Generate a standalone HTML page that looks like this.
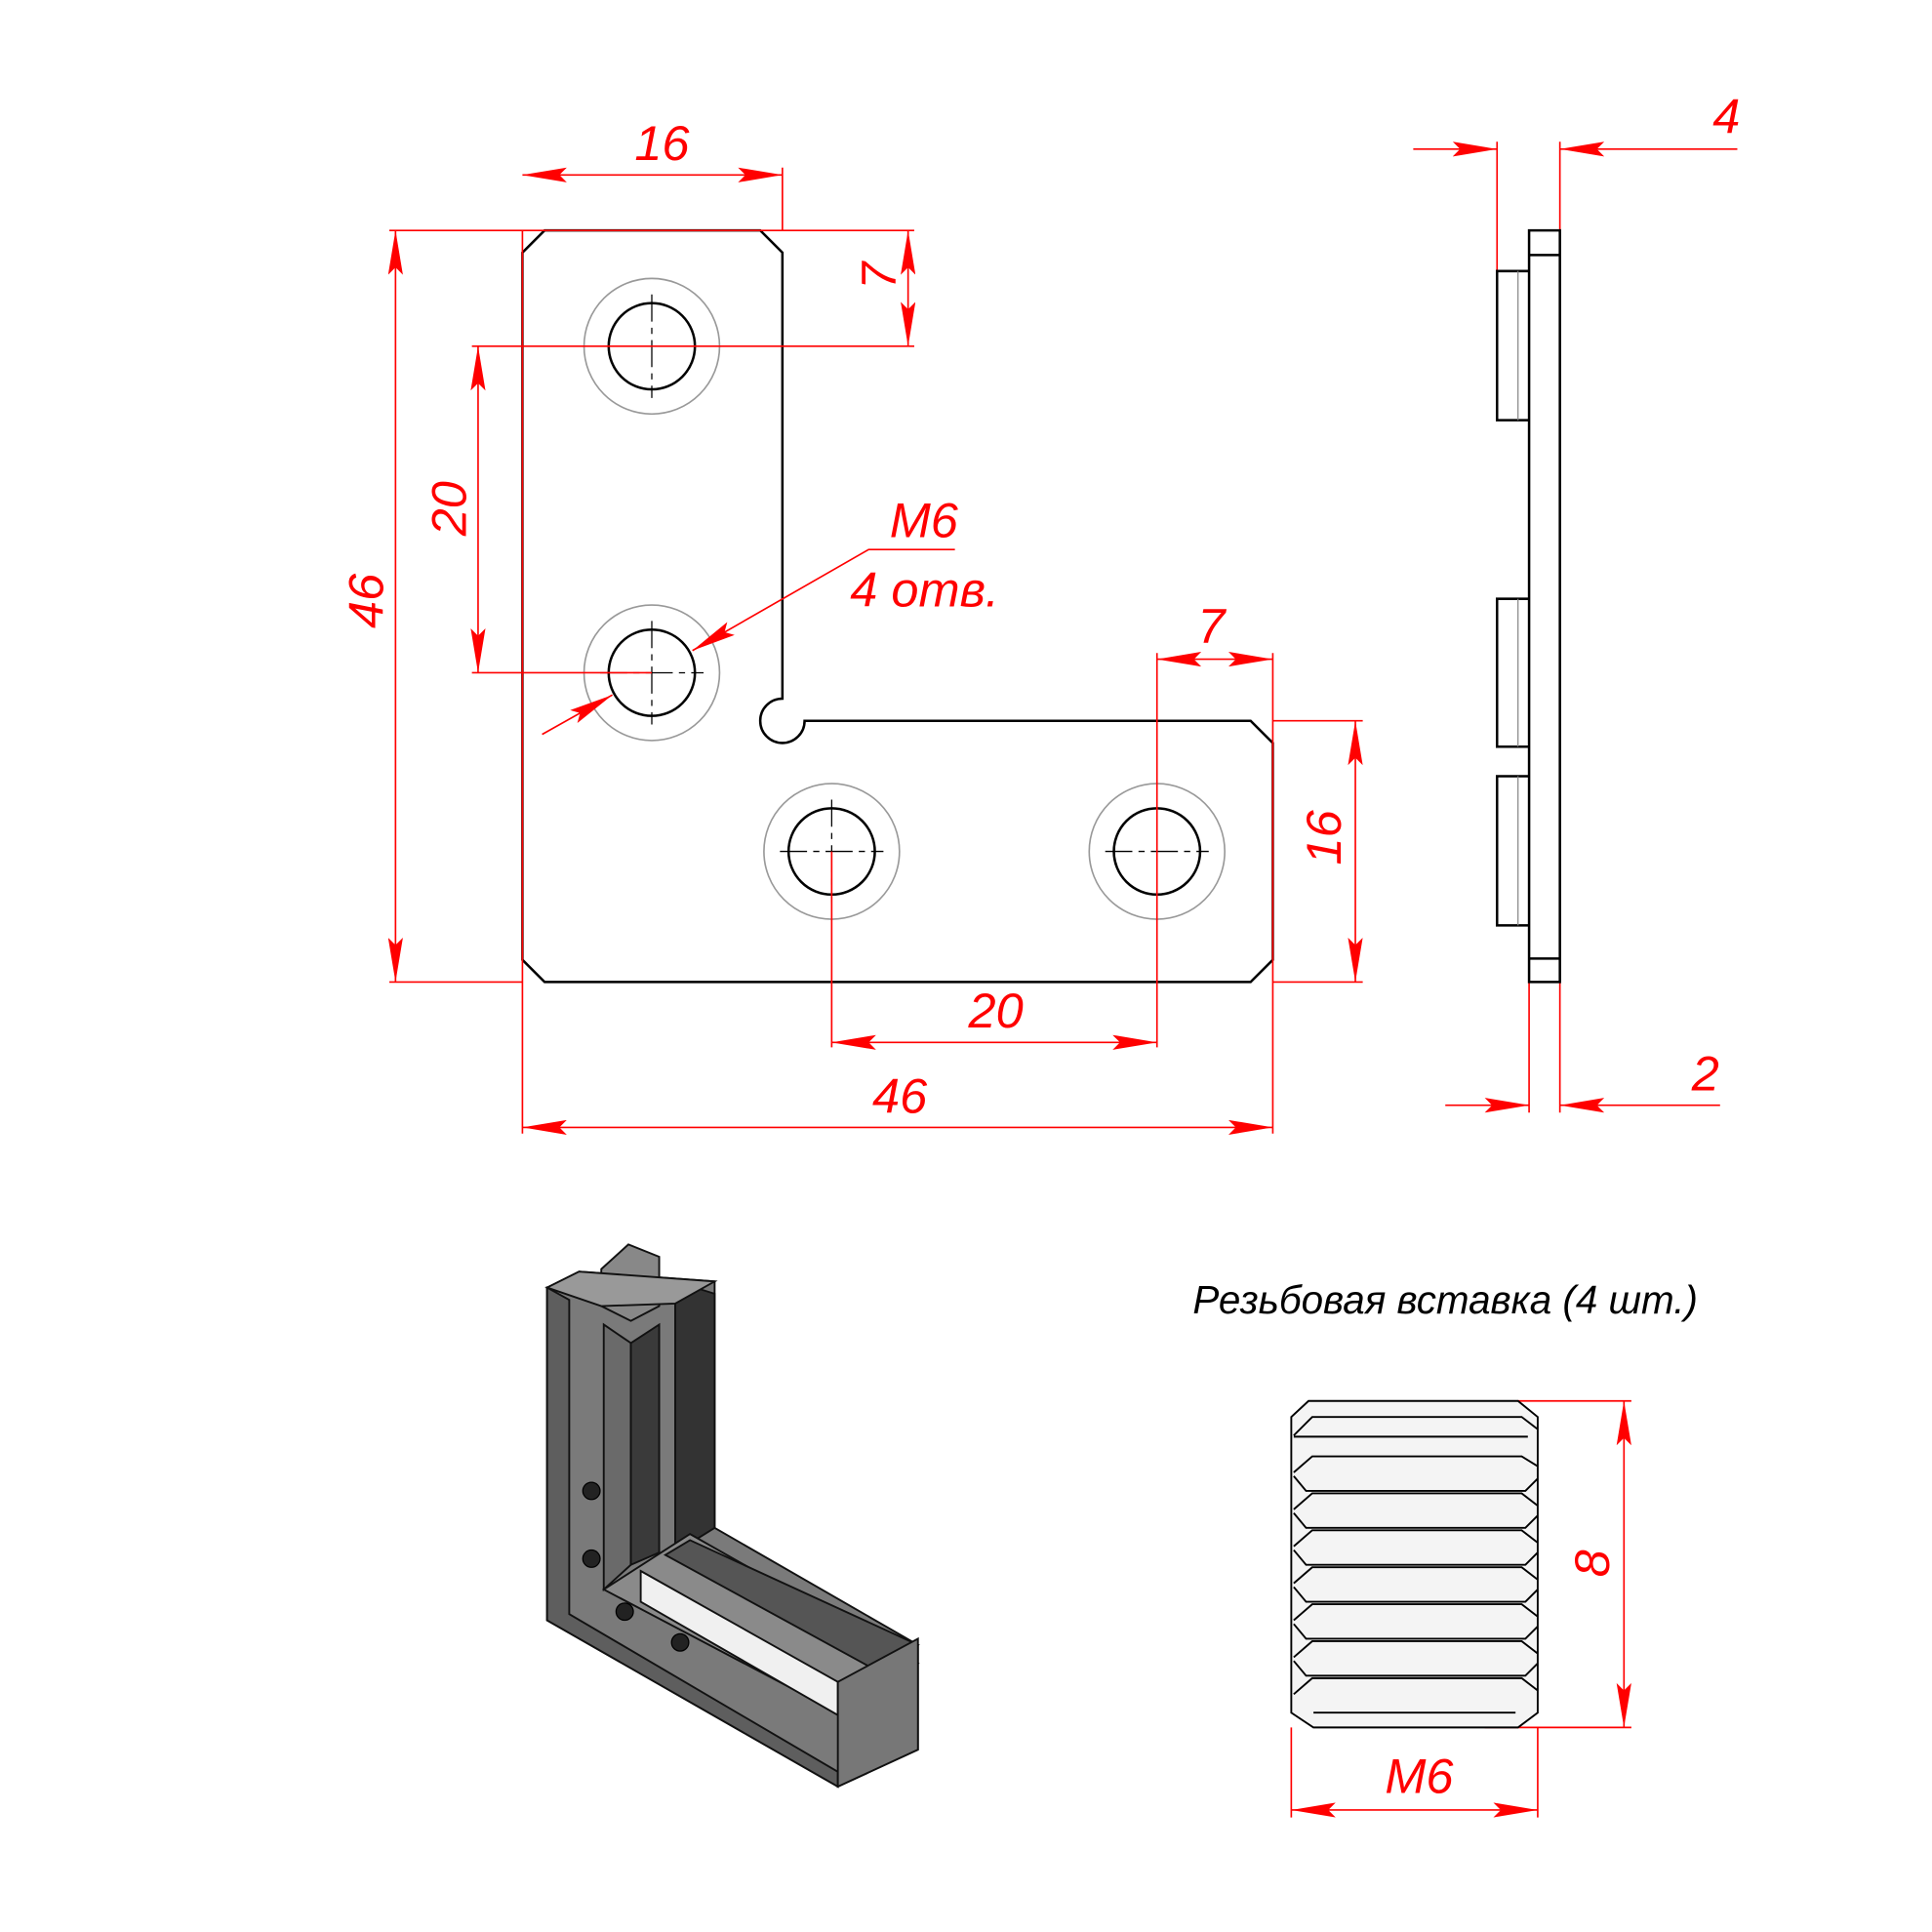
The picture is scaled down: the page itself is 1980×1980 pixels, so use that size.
<!DOCTYPE html>
<html><head><meta charset="utf-8"><style>html,body{margin:0;padding:0;background:#fff}svg{display:block}</style></head><body>
<svg width="1980" height="1980" viewBox="0 0 1568 1568" xmlns="http://www.w3.org/2000/svg">
<defs>
<marker id="a" viewBox="0 0 36 12" refX="36" refY="6" markerWidth="36" markerHeight="12" markerUnits="userSpaceOnUse" orient="auto-start-reverse"><path d="M36,6 L0,0 L6,6 L0,12 Z" fill="#f00"/></marker>
</defs>
<g font-family="Liberation Sans, sans-serif" font-style="italic" fill="#f00" font-size="40">
<path d="M442,187 L617,187 L635,205 L635,567 A18,18 0 1 0 653,585 L1015,585 L1033,603 L1033,779 L1015,797 L442,797 L424,779 L424,205 Z" fill="none" stroke="#000" stroke-width="2"/>
<g fill="none">
<g stroke="#999" stroke-width="1.3"><circle cx="529" cy="281" r="55"/><circle cx="529" cy="546" r="55"/><circle cx="675" cy="691" r="55"/><circle cx="939" cy="691" r="55"/></g>
<g stroke="#000" stroke-width="2"><circle cx="529" cy="281" r="35"/><circle cx="529" cy="546" r="35"/><circle cx="675" cy="691" r="35"/><circle cx="939" cy="691" r="35"/></g>
<g stroke="#000" stroke-width="1" stroke-dasharray="22,5,5,5">
<path d="M487,281H571M529,239V323M487,546H571M529,504V588M633,691H717M675,649V733M897,691H981M939,649V733"/>
</g>
<g stroke="#f00" stroke-width="1.3">
<path d="M424,187V920M635,187V136M316,187H742M383,281H742M383,546H529M1033,585H1106M1033,797H1106M316,797H424M675,691V850M939,530V850M1033,530V920"/>
<path d="M424,142H635" marker-start="url(#a)" marker-end="url(#a)"/>
<path d="M737,187V281" marker-start="url(#a)" marker-end="url(#a)"/>
<path d="M321,187V797" marker-start="url(#a)" marker-end="url(#a)"/>
<path d="M388,281V546" marker-start="url(#a)" marker-end="url(#a)"/>
<path d="M1100,585V797" marker-start="url(#a)" marker-end="url(#a)"/>
<path d="M675,846H939" marker-start="url(#a)" marker-end="url(#a)"/>
<path d="M424,915H1033" marker-start="url(#a)" marker-end="url(#a)"/>
<path d="M939,535H1033" marker-start="url(#a)" marker-end="url(#a)"/>
<path d="M775,446H705L562,528" marker-end="url(#a)"/>
<path d="M440,596L497,564" marker-end="url(#a)"/>
<path d="M1215,220V115M1266,187V115M1241,778V903M1266,797V903"/>
<path d="M1147,121H1215" marker-end="url(#a)"/>
<path d="M1410,121H1266" marker-end="url(#a)"/>
<path d="M1173,897H1241" marker-end="url(#a)"/>
<path d="M1396,897H1266" marker-end="url(#a)"/>
<path d="M1232,1137H1324M1205,1402H1324M1048,1402V1475M1248,1402V1475"/>
<path d="M1318,1137V1402" marker-start="url(#a)" marker-end="url(#a)"/>
<path d="M1048,1469H1248" marker-start="url(#a)" marker-end="url(#a)"/>
</g>
<g stroke="#000" stroke-width="2">
<path d="M1241,187H1266V797H1241Z"/>
<path d="M1241,207H1266M1241,778H1266"/>
<path d="M1241,220H1215V341H1241M1241,486H1215V606H1241M1241,630H1215V751H1241"/>
<path d="M1232,220V341M1232,486V606M1232,630V751" stroke="#888" stroke-width="1"/>
</g>
</g>
<text x="515" y="130">16</text>
<text transform="translate(727,235) rotate(-90)">7</text>
<text transform="translate(311,510) rotate(-90)">46</text>
<text transform="translate(378,435) rotate(-90)">20</text>
<text x="722" y="436">M6</text>
<text x="690" y="492">4 отв.</text>
<text x="972" y="522">7</text>
<text transform="translate(1088,702) rotate(-90)">16</text>
<text x="786" y="834">20</text>
<text x="708" y="903">46</text>
<text x="1390" y="108">4</text>
<text x="1373" y="885">2</text>
<text x="968" y="1066" fill="#000" font-size="32">Резьбовая вставка (4 шт.)</text>
<text transform="translate(1306,1280) rotate(-90)">8</text>
<text x="1124" y="1455">M6</text>
</g>
<g stroke="#000" stroke-width="1.5" fill="#eee">
<path d="M1062,1137H1232L1248,1150V1390L1232,1402H1066L1048,1390V1150Z" fill="#f4f4f4"/>
<g fill="none">
<path d="M1050,1165L1065,1150H1235L1248,1160M1050,1166H1240"/>
<path d="M1050,1195L1065,1182H1235L1248,1190M1050,1198L1060,1210H1238L1248,1200"/>
<path d="M1050,1225L1065,1212H1235L1248,1222M1050,1228L1060,1240H1238L1248,1230"/>
<path d="M1050,1255L1065,1242H1235L1248,1252M1050,1258L1060,1270H1238L1248,1260"/>
<path d="M1050,1285L1065,1272H1235L1248,1282M1050,1288L1060,1300H1238L1248,1290"/>
<path d="M1050,1315L1065,1302H1235L1248,1312M1050,1318L1060,1330H1238L1248,1320"/>
<path d="M1050,1345L1065,1332H1235L1248,1342M1050,1348L1060,1360H1238L1248,1350"/>
<path d="M1050,1375L1065,1362H1235L1248,1372M1066,1390H1230"/>
</g>
</g>
<g stroke="#111" stroke-width="1.5">
<path d="M444,1045L470,1032L580,1040L580,1240L745,1335L745,1420L680,1450L444,1315Z" fill="#7a7a7a"/>
<path d="M462,1055L462,1310L680,1438L680,1450L444,1315V1045Z" fill="#5e5e5e"/>
<path d="M548,1040L580,1050V1240L548,1260Z" fill="#333"/>
<path d="M488,1030L510,1010L535,1020V1060L512,1072L488,1060Z" fill="#888"/>
<path d="M490,1075L512,1090L512,1270L490,1290Z" fill="#6a6a6a"/>
<path d="M512,1090L535,1075L535,1260L512,1270Z" fill="#3a3a3a"/>
<path d="M490,1290L560,1245L745,1350L680,1390Z" fill="#8a8a8a"/>
<path d="M520,1275L680,1365L680,1392L520,1300Z" fill="#f0f0f0"/>
<path d="M560,1250L745,1335L710,1355L540,1262Z" fill="#555"/>
<path d="M680,1365L745,1330L745,1420L680,1450Z" fill="#777"/>
<path d="M444,1045L470,1032L580,1040L548,1058L488,1060Z" fill="#999"/>
</g>
<g fill="#222" stroke="#000"><circle cx="480" cy="1210" r="7"/><circle cx="480" cy="1265" r="7"/><circle cx="507" cy="1308" r="7"/><circle cx="552" cy="1333" r="7"/></g>
</svg>
</body></html>
